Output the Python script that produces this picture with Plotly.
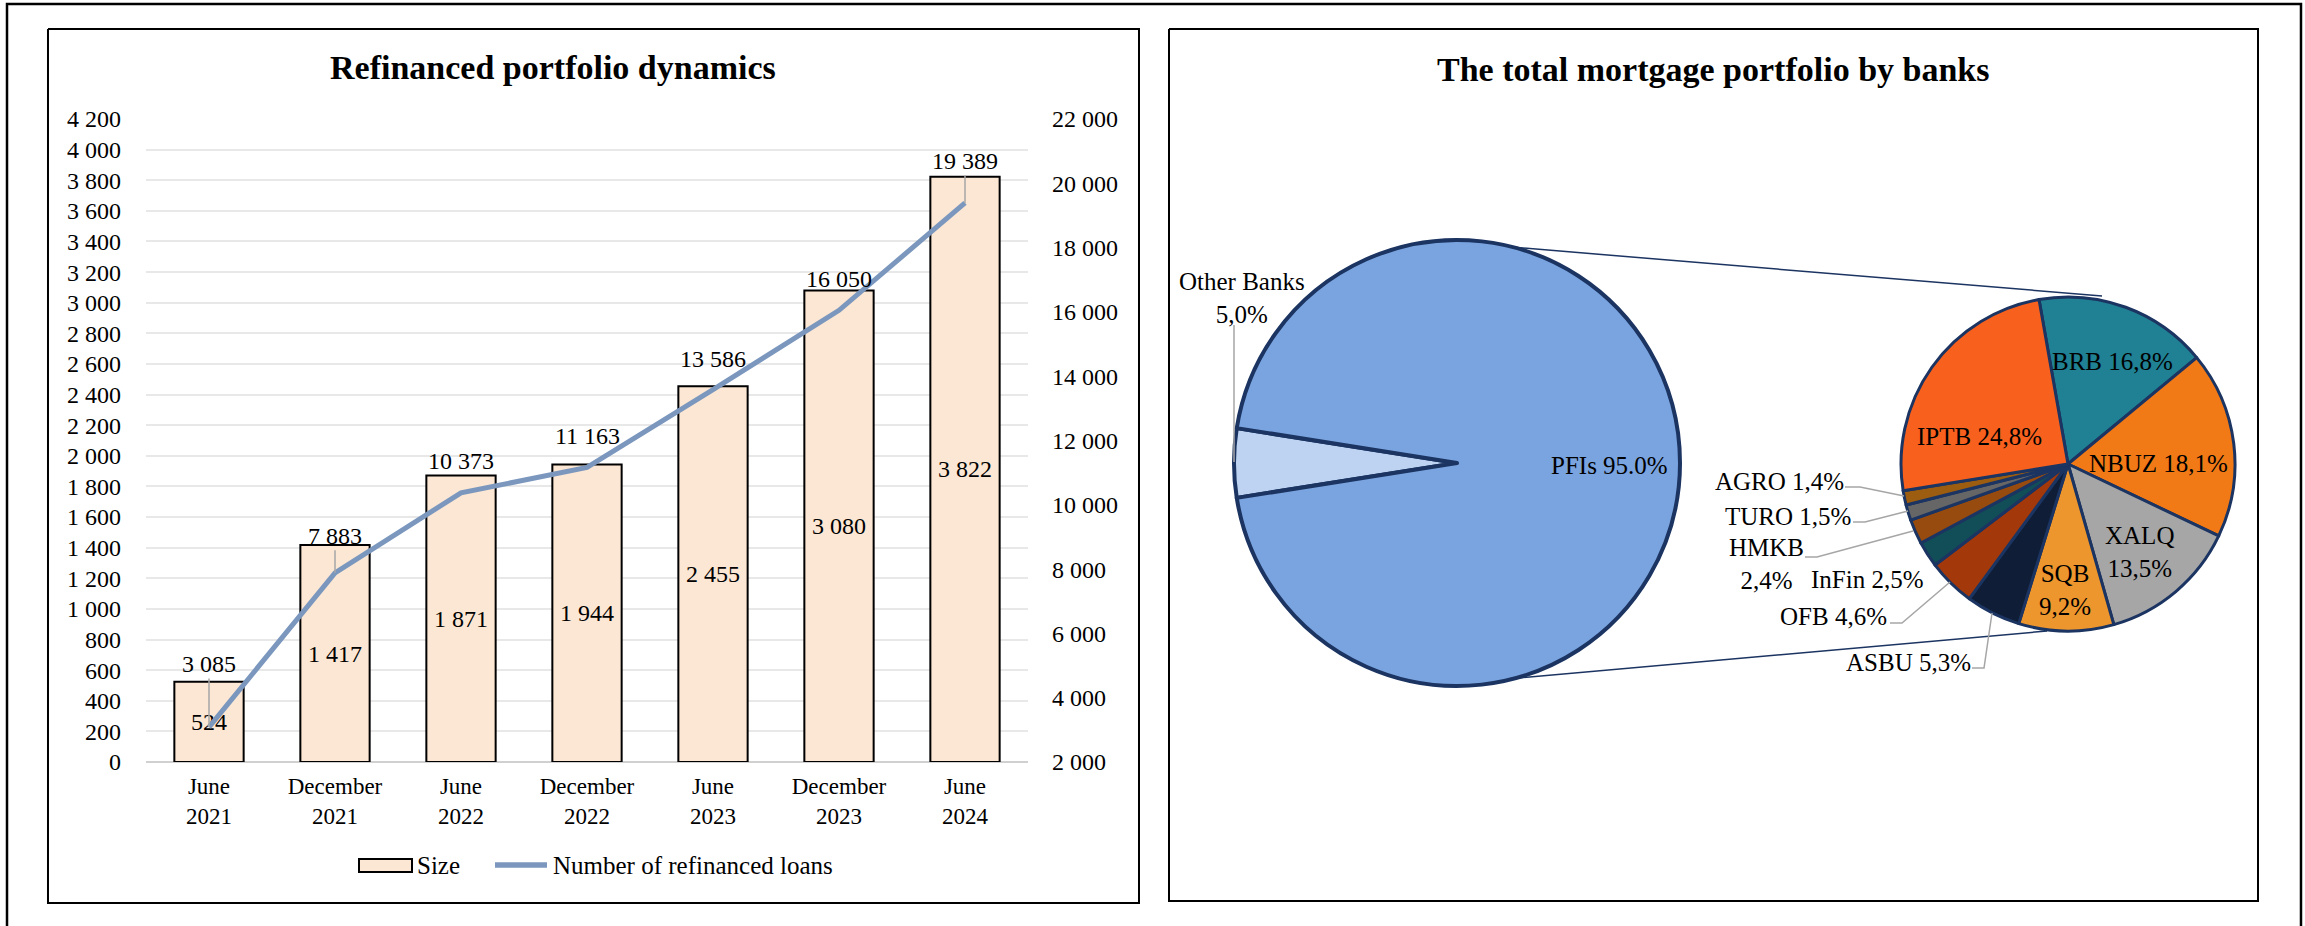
import plotly.graph_objects as go

W, H = 2305, 926
FONT = "Liberation Serif"

# ---------------- data ----------------
periods = ["June<br>2021", "December<br>2021", "June<br>2022", "December<br>2022",
           "June<br>2023", "December<br>2023", "June<br>2024"]
size_values = [524, 1417, 1871, 1944, 2455, 3080, 3822]
loan_counts = [3085, 7883, 10373, 11163, 13586, 16050, 19389]

left_ticks = list(range(0, 4201, 200))
right_ticks = list(range(2000, 22001, 2000))

outer_labels = ["Other Banks", "PFIs"]
outer_shares = [5.0, 95.0]

bank_labels = ["BRB", "NBUZ", "XALQ", "SQB", "ASBU", "OFB", "InFin", "HMKB", "TURO", "AGRO", "IPTB"]
bank_shares = [16.8, 18.1, 13.5, 9.2, 5.3, 4.6, 2.5, 2.4, 1.5, 1.4, 24.8]

# ---------------- styles ----------------
outer_colors = ["#BDD3F1", "#7AA4E0"]
bank_colors = ["#1F8193", "#F27A16", "#A6A6A6", "#EE962E", "#0F1E36", "#A3390A",
               "#124E57", "#974B0E", "#666666", "#9C5D10", "#F8611D"]
PIE_EDGE = "#1B3461"
LINE_COLOR = "#7B97BE"
BAR_FILL = "#FBE7D3"
LEADER = "#A6A6A6"


def fmt(v):
    return f"{v:,}".replace(",", " ")


def pct(v):
    return f"{v:.1f}".replace(".", ",") + "%"


def px(x, y):
    return x / W, 1 - y / H


fig = go.Figure()

# ---------------- left chart ----------------
fig.add_trace(go.Bar(
    x=periods, y=size_values, name="Size",
    text=[fmt(v) for v in size_values], textposition="inside", insidetextanchor="middle",
    textfont=dict(family=FONT, size=24, color="black"),
    marker=dict(color=BAR_FILL, line=dict(color="black", width=2)),
    hoverinfo="skip", xaxis="x", yaxis="y", showlegend=False,
))
fig.add_trace(go.Scatter(
    x=periods, y=loan_counts, name="Number of refinanced loans", mode="lines",
    line=dict(color=LINE_COLOR, width=5), hoverinfo="skip", xaxis="x", yaxis="y2",
    showlegend=False,
))

label_lift = [63, 37, 32, 31, 31, 31, 42]
label_leader = [True, True, False, False, False, False, True]
annotations = []
for cat, val, lift, lead in zip(periods, loan_counts, label_lift, label_leader):
    if lead:
        annotations.append(dict(x=cat, y=val, xref="x", yref="y2", text=fmt(val),
                                showarrow=True, ax=0, ay=-lift, arrowhead=0, arrowwidth=1.5,
                                arrowcolor=LEADER, standoff=0,
                                font=dict(family=FONT, size=24, color="black")))
    else:
        annotations.append(dict(x=cat, y=val, xref="x", yref="y2", text=fmt(val),
                                showarrow=False, yshift=lift, xanchor="center", yanchor="middle",
                                font=dict(family=FONT, size=24, color="black")))

# ---------------- pies ----------------
bx0, by0 = px(1234, 240)
bx1, by1 = px(1680, 686)
fig.add_trace(go.Pie(
    labels=outer_labels, values=outer_shares, sort=False, direction="clockwise",
    rotation=261, textinfo="none", hoverinfo="skip", showlegend=False,
    marker=dict(colors=outer_colors, line=dict(color=PIE_EDGE, width=4)),
    domain=dict(x=[bx0, bx1], y=[by1, by0]),
))
sx0, sy0 = px(1901, 297)
sx1, sy1 = px(2235, 631)
fig.add_trace(go.Pie(
    labels=bank_labels, values=bank_shares, sort=False, direction="clockwise",
    rotation=-10, textinfo="none", hoverinfo="skip", showlegend=False,
    marker=dict(colors=bank_colors, line=dict(color=PIE_EDGE, width=3)),
    domain=dict(x=[sx0, sx1], y=[sy1, sy0]),
))

share = dict(zip(bank_labels, bank_shares))
pie_label_pos = {
    "BRB": (2112, 362, f"BRB {pct(share['BRB'])}"),
    "IPTB": (1979, 436, f"IPTB {pct(share['IPTB'])}"),
    "NBUZ": (2158, 463, f"NBUZ {pct(share['NBUZ'])}"),
    "XALQ": (2139, 552, f"XALQ<br>{pct(share['XALQ'])}"),
    "SQB": (2065, 590, f"SQB<br>{pct(share['SQB'])}"),
    "AGRO": (1779, 481, f"AGRO {pct(share['AGRO'])}"),
    "TURO": (1788, 516, f"TURO {pct(share['TURO'])}"),
    "HMKB": (1766, 564, f"HMKB<br>{pct(share['HMKB'])}"),
    "InFin": (1867, 579, f"InFin {pct(share['InFin'])}"),
    "OFB": (1833, 616, f"OFB {pct(share['OFB'])}"),
    "ASBU": (1908, 662, f"ASBU {pct(share['ASBU'])}"),
}
for name, (x, y, txt) in pie_label_pos.items():
    ax, ay = px(x, y)
    annotations.append(dict(x=ax, y=ay, xref="paper", yref="paper", text=txt, showarrow=False,
                            xanchor="center", yanchor="middle",
                            font=dict(family=FONT, size=25, color="black")))

ax, ay = px(1609, 465)
annotations.append(dict(x=ax, y=ay, xref="paper", yref="paper",
                        text=f"PFIs {outer_shares[1]:.1f}%", showarrow=False,
                        xanchor="center", yanchor="middle",
                        font=dict(family=FONT, size=25, color="black")))
ax, ay = px(1242, 298)
annotations.append(dict(x=ax, y=ay, xref="paper", yref="paper",
                        text=f"Other Banks<br>{pct(outer_shares[0])}", showarrow=False,
                        xanchor="center", yanchor="middle",
                        font=dict(family=FONT, size=25, color="black")))

# titles
for (x, y, t) in [(553, 68, "Refinanced portfolio dynamics"),
                  (1713, 69, "The total mortgage portfolio by banks")]:
    tx, ty = px(x, y)
    annotations.append(dict(x=tx, y=ty, xref="paper", yref="paper", text=f"<b>{t}</b>",
                            showarrow=False, xanchor="center", yanchor="middle",
                            font=dict(family=FONT, size=34, color="black")))

# legend texts
for (x, y, t) in [(415, 865, "Size"), (551, 865, "Number of refinanced loans")]:
    lx, ly = px(x, y)
    annotations.append(dict(x=lx, y=ly, xref="paper", yref="paper", text=t, showarrow=False,
                            xanchor="left", yanchor="middle",
                            font=dict(family=FONT, size=25, color="black")))

# ---------------- shapes ----------------
shapes = []


def line(pts, color, width):
    path = "M " + " L ".join(f"{px(x, y)[0]:.5f},{px(x, y)[1]:.5f}" for x, y in pts)
    shapes.append(dict(type="path", path=path, xref="paper", yref="paper",
                       line=dict(color=color, width=width), layer="above"))


# outer frame
line([(7, 926), (7, 4), (2301, 4), (2301, 926)], "black", 2.5)
# panel frames
line([(48, 29), (1139, 29), (1139, 903), (48, 903), (48, 29)], "black", 2)
line([(1169, 29), (2258, 29), (2258, 901), (1169, 901), (1169, 29)], "black", 2)
# pie-of-pie connectors
line([(1511, 247), (2102, 296)], PIE_EDGE, 1.5)
line([(1518, 678), (2047, 631)], PIE_EDGE, 1.5)
# leader lines
line([(1234, 325), (1234, 462)], LEADER, 1.5)
line([(1845, 487), (1860, 487), (1904, 496)], LEADER, 1.5)
line([(1853, 522), (1865, 522), (1908, 511)], LEADER, 1.5)
line([(1805, 557), (1817, 557), (1913, 531)], LEADER, 1.5)
line([(1890, 623), (1902, 623), (1950, 582)], LEADER, 1.5)
line([(1972, 668), (1984, 668), (1992, 613)], LEADER, 1.5)

# legend symbols
r0x, r0y = px(359, 859)
r1x, r1y = px(412, 872)
shapes.append(dict(type="rect", xref="paper", yref="paper", x0=r0x, y0=r1y, x1=r1x, y1=r0y,
                   fillcolor=BAR_FILL, line=dict(color="black", width=2)))
line([(495, 865), (547, 865)], LINE_COLOR, 5.5)

dx0, _ = px(146, 0)
dx1, _ = px(1028, 0)
_, dy0 = px(0, 762)
_, dy1 = px(0, 119)

fig.update_layout(
    template="none",
    width=W, height=H, autosize=False,
    margin=dict(l=0, r=0, t=0, b=0, pad=0, autoexpand=False),
    paper_bgcolor="white", plot_bgcolor="white",
    font=dict(family=FONT, size=23, color="black"),
    bargap=0.45,
    showlegend=False,
    xaxis=dict(domain=[dx0, dx1], type="category", range=[-0.5, 6.5], showgrid=False,
               showline=False, ticks="", ticklabelstandoff=8, automargin=False, zeroline=False,
               tickfont=dict(family=FONT, size=23, color="black"), fixedrange=True),
    yaxis=dict(domain=[dy0, dy1], range=[0, 4200], tickvals=left_ticks,
               ticktext=[fmt(v) for v in left_ticks], showgrid=True, gridcolor="#E8E8E8",
               gridwidth=1.5, zeroline=True, zerolinecolor="#D0D0D0", zerolinewidth=2,
               showline=False, ticks="", ticklabelstandoff=24, automargin=False,
               tickfont=dict(family=FONT, size=24, color="black"), fixedrange=True),
    yaxis2=dict(overlaying="y", side="right", range=[2000, 22000], tickvals=right_ticks,
                ticktext=[fmt(v) for v in right_ticks], showgrid=False, zeroline=False,
                showline=False, ticks="", ticklabelstandoff=23, anchor="x", automargin=False,
                tickfont=dict(family=FONT, size=24, color="black"), fixedrange=True),
    annotations=annotations,
    shapes=shapes,
)

fig.write_html("out.html")
